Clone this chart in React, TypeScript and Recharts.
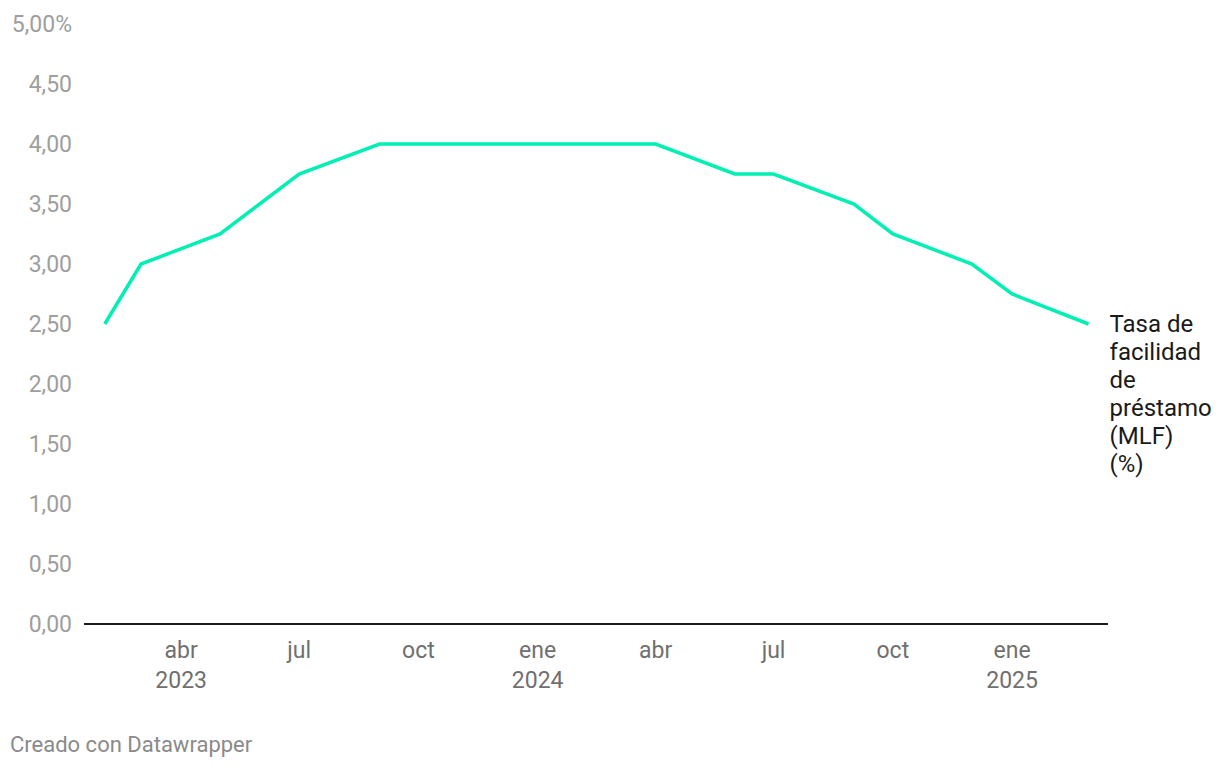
import { LineChart, Line, XAxis, YAxis } from "recharts";

// monthly breakpoints of the MLF rate (%)
const dates = [
  "2023-02-01", "2023-03-01", "2023-05-01", "2023-07-01", "2023-09-01",
  "2024-04-01", "2024-06-01", "2024-07-01", "2024-09-01", "2024-10-01",
  "2024-12-01", "2025-01-01", "2025-03-01",
];
const rates = [2.5, 3.0, 3.25, 3.75, 4.0, 4.0, 3.75, 3.75, 3.5, 3.25, 3.0, 2.75, 2.5];

const xTickDates = [
  "2023-04-01", "2023-07-01", "2023-10-01", "2024-01-01",
  "2024-04-01", "2024-07-01", "2024-10-01", "2025-01-01",
];
const xTickMonths = ["abr", "jul", "oct", "ene", "abr", "jul", "oct", "ene"];
const xTickYears = ["2023", "", "", "2024", "", "", "", "2025"];

const yTicks = [0, 0.5, 1, 1.5, 2, 2.5, 3, 3.5, 4, 4.5, 5];

const seriesLabel = ["Tasa de", "facilidad", "de", "préstamo", "(MLF)", "(%)"];

const toTime = (d: string) => new Date(d + "T00:00:00Z").getTime();
const data = dates.map((d, i) => ({ t: toTime(d), rate: rates[i] }));
const xTicks = xTickDates.map(toTime);
const xDomain = [toTime("2023-01-16"), toTime("2025-03-16")];

const FONT = "Roboto, sans-serif";

const XTick = (props: any) => {
  const { x, y, payload } = props;
  const i = xTicks.indexOf(payload.value);
  return (
    <text x={x} y={y} textAnchor="middle" fill="#707070" fontSize={23} fontFamily={FONT}>
      <tspan x={x} dy={26}>{xTickMonths[i]}</tspan>
      {xTickYears[i] && <tspan x={x} dy={30}>{xTickYears[i]}</tspan>}
    </text>
  );
};

const EndLabel = (props: any) => {
  const { x, y, index } = props;
  if (index !== data.length - 1) return null;
  return (
    <text x={x + 21} y={y} fill="#1a1a1a" fontSize={24} fontFamily={FONT}>
      {seriesLabel.map((s, k) => (
        <tspan key={k} x={x + 21} dy={k === 0 ? 8 : 28}>{s}</tspan>
      ))}
    </text>
  );
};

export default function App() {
  return (
    <div style={{ position: "absolute", left: 0, top: 0, width: 1220, height: 770, background: "#fff" }}>
      <LineChart width={1220} height={770} data={data} margin={{ top: 24, right: 112, bottom: 0, left: 0 }}>
        <XAxis
          dataKey="t"
          type="number"
          scale="time"
          domain={xDomain}
          ticks={xTicks}
          tick={<XTick />}
          tickLine={false}
          axisLine={{ stroke: "#1a1a1a", strokeWidth: 2 }}
          interval={0}
          height={146}
        />
        <YAxis
          type="number"
          domain={[0, 5]}
          ticks={yTicks}
          width={84}
          axisLine={false}
          tickLine={false}
          tickSize={0}
          tickMargin={12}
          interval={0}
          tick={{ fill: "#9e9e9e", fontSize: 23, fontFamily: FONT }}
          tickFormatter={(v: number) => v.toFixed(2).replace(".", ",") + (v === 5 ? "%" : "")}
        />
        <Line
          type="linear"
          dataKey="rate"
          stroke="#00f0b4"
          strokeWidth={3.5}
          dot={false}
          isAnimationActive={false}
          label={<EndLabel />}
        />
      </LineChart>
      <div style={{ position: "absolute", left: 10, top: 732, fontFamily: FONT, fontSize: 22, color: "#8a8a8a" }}>
        Creado con Datawrapper
      </div>
    </div>
  );
}
